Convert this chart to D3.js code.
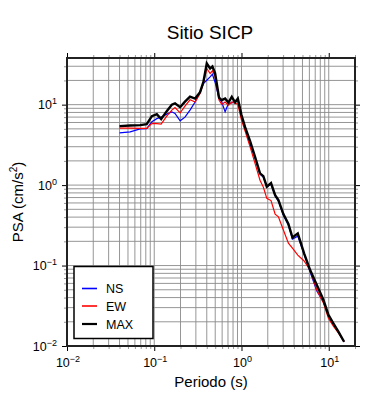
<!DOCTYPE html>
<html><head><meta charset="utf-8">
<script src="https://cdn.jsdelivr.net/npm/d3@7"></script>
<style>
body{margin:0;background:#fff}
svg{display:block}
text{font-family:"Liberation Sans",Arial,Helvetica,sans-serif;fill:#000}
</style>
</head><body>
<svg id="c" width="390" height="400"></svg>
<script>
// ---- data ----
const periods = [0.04,0.053,0.069,0.082,0.094,0.107,0.12,0.139,0.159,0.173,0.198,0.225,0.257,0.294,0.335,0.366,0.40,0.437,0.464,0.498,0.553,0.594,0.649,0.708,0.774,0.845,0.908,1.0,1.1,1.255,1.43,1.63,1.78,1.95,2.18,2.43,2.65,3.02,3.45,3.84,4.42,5.22,6.12,7.3,8.7,9.92,11.3,12.9,15.0];
const psaNS  = [4.46,4.59,5.0,5.03,6.15,6.7,7.0,7.62,8.14,7.78,6.29,7.0,8.55,10.8,14.4,18.3,20.1,22.1,23.9,19.0,11.9,10.8,8.14,10.35,10.5,11.2,11.6,7.41,5.11,3.23,2.16,1.37,1.26,0.944,1.03,0.73,0.633,0.424,0.318,0.213,0.232,0.139,0.083,0.0482,0.0352,0.0243,0.0187,0.0148,0.0112];
const psaEW  = [5.11,5.11,5.07,5.07,5.84,5.8,5.73,7.2,8.55,9.18,7.91,9.58,11.5,10.8,13.8,18.5,28.2,24.4,26.3,22.6,11.4,10.1,10.8,9.86,10.8,10.4,10.1,6.42,4.69,2.99,1.86,1.15,0.944,0.684,0.642,0.436,0.404,0.276,0.19,0.165,0.135,0.114,0.0879,0.0496,0.0342,0.0221,0.0177,0.0145,0.0113];
const psaMAX = [5.41,5.5,5.56,5.72,7.2,7.62,6.61,8.3,10.0,10.4,9.3,10.9,12.57,11.9,14.3,19.2,32.5,28.2,29.8,24.6,12.2,11.4,11.9,10.6,12.5,10.7,11.9,7.41,5.25,3.52,2.25,1.40,1.29,0.958,1.06,0.75,0.651,0.436,0.328,0.223,0.251,0.1418,0.0879,0.0572,0.0373,0.0243,0.0191,0.01505,0.0113];
const seriesNames = ["NS","EW","MAX"];
const xDomain = [0.01, 20];
const yDomain = [0.01, 38];
const xMajorTicks = [0.01, 0.1, 1, 10];
const yMajorTicks = [0.01, 0.1, 1, 10];
const titleText = "Sitio SICP";
const xLabel = "Periodo (s)";
const yLabel = "PSA (cm/s";

// ---- layout ----
const L = 67, R = 355, T = 58, B = 346;
const svg = d3.select("#c");
const x = d3.scaleLog().domain(xDomain).range([L, R]);
const y = d3.scaleLog().domain(yDomain).range([B, T]);

function minorVals(dom){
  const out=[];
  for(let e=-3;e<=3;e++){
    for(let k=1;k<=9;k++){
      const v=+(k*Math.pow(10,e)).toPrecision(6);
      if(v>=dom[0]*0.9999 && v<=dom[1]*1.0001) out.push(v);
    }
  }
  return out;
}
const xAll = minorVals(xDomain);
const yAll = minorVals(yDomain);
const isMajor = v => Math.abs(Math.log10(v)-Math.round(Math.log10(v)))<1e-6;

// grid
const grid = svg.append("g").attr("stroke","#8a8a8a").attr("stroke-width",0.9);
grid.selectAll("line.vx").data(xAll).join("line")
  .attr("x1",d=>x(d)).attr("x2",d=>x(d)).attr("y1",T).attr("y2",B);
grid.selectAll("line.hy").data(yAll).join("line")
  .attr("y1",d=>y(d)).attr("y2",d=>y(d)).attr("x1",L).attr("x2",R);

// axes ticks (outside)
function styleAxis(g, major){
  g.select(".domain").remove();
  g.selectAll(".tick line").attr("stroke", major ? "#000" : "#999").attr("stroke-width", 1);
}
const xMinor = xAll.filter(v=>!isMajor(v)), yMinor = yAll.filter(v=>!isMajor(v));
svg.append("g").attr("transform",`translate(0,${B})`).call(d3.axisBottom(x).tickValues(xMinor).tickSize(3).tickFormat("")).call(g=>styleAxis(g,false));
svg.append("g").attr("transform",`translate(0,${B})`).call(d3.axisBottom(x).tickValues(xMajorTicks).tickSize(5).tickFormat("")).call(g=>styleAxis(g,true));
svg.append("g").attr("transform",`translate(0,${T})`).call(d3.axisTop(x).tickValues(xMinor).tickSize(3).tickFormat("")).call(g=>styleAxis(g,false));
svg.append("g").attr("transform",`translate(0,${T})`).call(d3.axisTop(x).tickValues(xMajorTicks).tickSize(5).tickFormat("")).call(g=>styleAxis(g,true));
svg.append("g").attr("transform",`translate(${L},0)`).call(d3.axisLeft(y).tickValues(yMinor).tickSize(3).tickFormat("")).call(g=>styleAxis(g,false));
svg.append("g").attr("transform",`translate(${L},0)`).call(d3.axisLeft(y).tickValues(yMajorTicks).tickSize(5).tickFormat("")).call(g=>styleAxis(g,true));
svg.append("g").attr("transform",`translate(${R},0)`).call(d3.axisRight(y).tickValues(yMinor).tickSize(3).tickFormat("")).call(g=>styleAxis(g,false));
svg.append("g").attr("transform",`translate(${R},0)`).call(d3.axisRight(y).tickValues(yMajorTicks).tickSize(5).tickFormat("")).call(g=>styleAxis(g,true));

// tick labels with superscripts
function expStr(v){ const e=Math.round(Math.log10(v)); return e<0 ? "\u2212"+(-e) : String(e); }
const xl = svg.append("g").selectAll("text").data(xMajorTicks).join("text")
  .attr("x",d=>x(d)+1).attr("y",367).attr("text-anchor","middle").attr("font-size",12.5);
xl.append("tspan").text("10");
xl.append("tspan").attr("dy",-5).attr("font-size",9).text(d=>expStr(d));
const yl = svg.append("g").selectAll("text").data(yMajorTicks).join("text")
  .attr("x",L-10).attr("y",d=>y(d)+4.5).attr("text-anchor","end").attr("font-size",12.5);
yl.append("tspan").text("10");
yl.append("tspan").attr("dy",-5).attr("font-size",9).text(d=>expStr(d));

// curves
const line = d3.line().x((d,i)=>x(periods[i])).y(d=>y(d));
const seriesData = [psaNS, psaEW, psaMAX];
const colors = ["#0000ff","#ff0000","#000000"];
const widths = [1.2,1.2,2.4];
svg.append("g").selectAll("path").data(seriesData).join("path")
  .attr("d",d=>line(d)).attr("fill","none")
  .attr("stroke",(d,i)=>colors[i]).attr("stroke-width",(d,i)=>widths[i])
  .attr("stroke-linejoin","miter").attr("stroke-miterlimit",3);

// frame
svg.append("rect").attr("x",L).attr("y",T).attr("width",R-L).attr("height",B-T)
  .attr("fill","none").attr("stroke","#222").attr("stroke-width",2);

// legend
const lg = svg.append("g");
lg.append("rect").attr("x",74).attr("y",266.5).attr("width",79).attr("height",72)
  .attr("fill","#fff").attr("stroke","#000").attr("stroke-width",1.5);
const legY = [288.5, 306, 324];
seriesNames.forEach((n,i)=>{
  lg.append("line").attr("x1",82).attr("x2",97).attr("y1",legY[i]).attr("y2",legY[i])
    .attr("stroke",colors[i]).attr("stroke-width",i===2?2.2:1.6);
  lg.append("text").attr("x",106).attr("y",legY[i]+4.5).attr("font-size",12.5).text(n);
});

// titles
svg.append("text").attr("x",210).attr("y",39).attr("text-anchor","middle").attr("font-size",19).text(titleText);
svg.append("text").attr("x",211).attr("y",387).attr("text-anchor","middle").attr("font-size",15).text(xLabel);
const yt = svg.append("text").attr("transform",`translate(23,${(T+B)/2}) rotate(-90)`).attr("text-anchor","middle").attr("font-size",15);
yt.append("tspan").text(yLabel);
yt.append("tspan").attr("dy",-6).attr("font-size",10).text("2");
yt.append("tspan").attr("dy",6).text(")");
</script>
</body></html>
